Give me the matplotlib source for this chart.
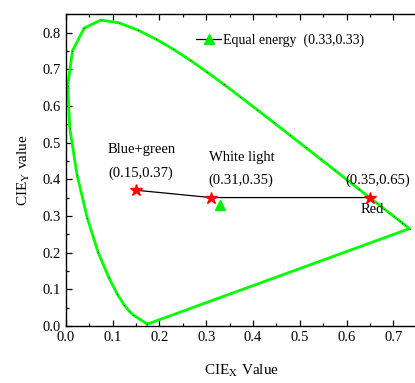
import matplotlib
matplotlib.use("Agg")
import matplotlib.pyplot as plt
from matplotlib.lines import Line2D
from matplotlib.ticker import MultipleLocator

plt.rcParams['font.family'] = ['Liberation Serif', 'DejaVu Serif']
plt.rcParams['mathtext.fontset'] = 'stix'

# Spectral locus (CIE 1931), 380 nm ... 700 nm, closed back to start
locus_x = [0.1741, 0.1440, 0.1355, 0.1241, 0.1096, 0.0913, 0.0687, 0.0454, 0.0235,
           0.0082, 0.0039, 0.0139, 0.0389, 0.0743, 0.1142, 0.1547, 0.1929, 0.2296,
           0.2658, 0.3016, 0.3373, 0.3731, 0.4087, 0.4441, 0.4788, 0.5125, 0.5448,
           0.5752, 0.6029, 0.6270, 0.6482, 0.6658, 0.6801, 0.6915, 0.7006, 0.7079,
           0.7140, 0.7190, 0.7260, 0.7347, 0.1741]
locus_y = [0.0050, 0.0297, 0.0399, 0.0578, 0.0868, 0.1327, 0.2007, 0.2950, 0.4127,
           0.5384, 0.6548, 0.7502, 0.8120, 0.8338, 0.8262, 0.8059, 0.7816, 0.7543,
           0.7243, 0.6923, 0.6589, 0.6245, 0.5896, 0.5547, 0.5202, 0.4866, 0.4544,
           0.4242, 0.3965, 0.3725, 0.3514, 0.3340, 0.3197, 0.3083, 0.2993, 0.2920,
           0.2859, 0.2809, 0.2740, 0.2653, 0.0050]

# Measured points
point_names = ["Blue+green", "White light", "Red"]
point_x = [0.15, 0.31, 0.65]
point_y = [0.37, 0.35, 0.35]
point_labels = ["(0.15,0.37)", "(0.31,0.35)", "(0.35,0.65)"]

equal_x = [0.33]
equal_y = [0.33]
equal_label = "Equal energy  (0.33,0.33)"

fig = plt.figure(figsize=(4.15, 3.83), dpi=100)
ax = fig.add_axes([0.159, 0.149, 0.845, 0.814])

ax.plot(locus_x, locus_y, color='#00ff00', lw=2.0, zorder=2)
ax.plot(locus_x, locus_y, ls='none', marker='o', ms=0.8, mew=0, color='#333333', zorder=3)

ax.plot(point_x, point_y, color='black', lw=0.9, zorder=3)
ax.plot(point_x, point_y, ls='none', marker='*', ms=9, color='red', zorder=4)
ax.plot(equal_x, equal_y, ls='none', marker='^', ms=6.5, color='#00ee00', zorder=4)

fs = 10.5
ax.text(0.09, 0.48, point_names[0], fontsize=fs, ha='left', va='center')
ax.text(0.09, 0.415, point_labels[0], fontsize=fs, ha='left', va='center')
ax.text(0.305, 0.458, point_names[1], fontsize=fs, ha='left', va='center')
ax.text(0.305, 0.396, point_labels[1], fontsize=fs, ha='left', va='center')
ax.text(0.598, 0.396, point_labels[2], fontsize=fs, ha='left', va='center')
ax.text(0.655, 0.318, point_names[2], fontsize=fs, ha='center', va='center')

handle = Line2D([], [], color='black', lw=0.9, marker='^', ms=6.5,
                markerfacecolor='#00ee00', markeredgecolor='#00ee00')
leg = ax.legend([handle], [equal_label], loc='center left',
                bbox_to_anchor=(0.279, 0.78), bbox_transform=ax.transData,
                frameon=False, fontsize=10, handlelength=1.8, handletextpad=0.1,
                borderaxespad=0.0, borderpad=0.0)

ax.set_xlim(0, 0.75)
ax.set_ylim(0, 0.85)
ax.xaxis.set_major_locator(MultipleLocator(0.1))
ax.xaxis.set_minor_locator(MultipleLocator(0.05))
ax.yaxis.set_major_locator(MultipleLocator(0.1))
ax.yaxis.set_minor_locator(MultipleLocator(0.05))
ax.xaxis.set_major_formatter(matplotlib.ticker.FormatStrFormatter('%.1f'))
ax.yaxis.set_major_formatter(matplotlib.ticker.FormatStrFormatter('%.1f'))
ax.tick_params(which='both', direction='in', top=True, right=False, labelsize=fs,
               width=0.9)
ax.tick_params(which='major', length=4)
ax.tick_params(which='minor', length=2)
for s in ['left', 'bottom', 'top']:
    ax.spines[s].set_linewidth(1.0)
ax.spines['right'].set_visible(False)

ax.set_xlabel(r'CIE$_\mathrm{X}$ Value', fontsize=11, labelpad=14)
ax.set_ylabel(r'CIE$_\mathrm{Y}$ value', fontsize=11, labelpad=8)

fig.savefig('out.png', dpi=100)
